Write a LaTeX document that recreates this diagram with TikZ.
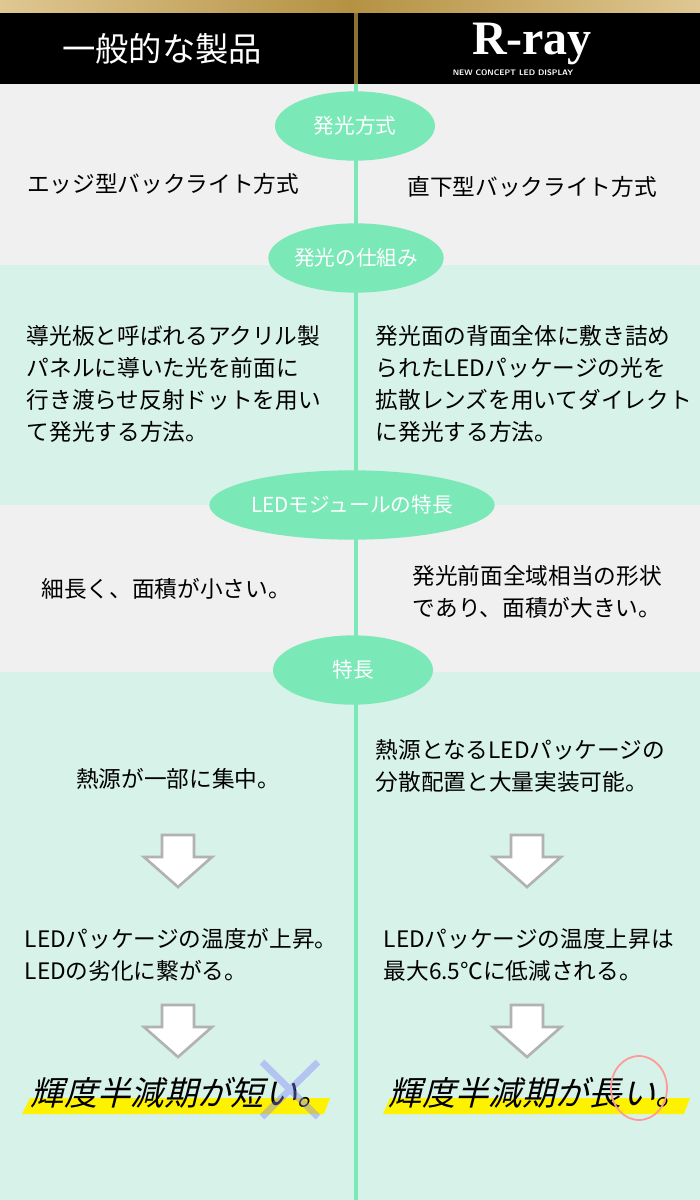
\documentclass[tikz,border=0pt]{standalone}
\usepackage{fontspec}
\setmainfont{Noto Sans CJK JP}
\newfontfamily\serifR{Liberation Serif}
\usetikzlibrary{shapes.geometric}
\definecolor{mint}{HTML}{7BE8B8}
\definecolor{mintbg}{HTML}{D7F2E9}
\definecolor{graybg}{HTML}{F0F0F0}
\definecolor{gold}{HTML}{C9A24A}
\tikzset{
  pill/.style={ellipse,fill=mint,text=white,font=\fontsize{15.5}{18}\selectfont,inner sep=0pt},
  body/.style={font=\fontsize{17}{24}\selectfont,align=left,text=black},
  darrow/.style={draw=gray!60,fill=white,line width=2pt},
  big/.style={font=\fontsize{25}{28}\selectfont,xslant=0.25},
}
\begin{document}
\begin{tikzpicture}[x=0.75pt,y=-0.75pt]
\useasboundingbox (0,0) rectangle (700,1200);
\shade[left color=gold!60!white,right color=gold!60!white,middle color=gold!90!black] (0,0) rectangle (700,13);
\fill[black] (0,13) rectangle (700,84);
\fill[graybg] (0,84) rectangle (700,265);
\fill[mintbg] (0,265) rectangle (700,505);
\fill[graybg] (0,505) rectangle (700,672);
\fill[mintbg] (0,672) rectangle (700,1200);
\fill[gold!70!black] (354,13) rectangle (358,84);
\fill[mint] (354,84) rectangle (358,1200);
\node[text=white,font=\fontsize{25}{27}\selectfont] (h1) at (162,49) {一般的な製品};
\node[text=white,font=\serifR\bfseries\fontsize{36}{38}\selectfont] (h2) at (532,44) {R-ray};
\node[text=white,font=\sffamily\bfseries\fontsize{6}{7}\selectfont] (h3) at (513,73) {NEW CONCEPT LED DISPLAY};
\node[pill,minimum width=120,minimum height=52] (p1) at (355,126) {発光方式};
\node[pill,minimum width=120,minimum height=52] (p2) at (356,258) {発光の仕組み};
\node[pill,minimum width=214,minimum height=52] (p3) at (352,505) {LEDモジュールの特長};
\node[pill,minimum width=120,minimum height=52] (p4) at (353,670) {特長};
\node[body] (a1) at (163,184) {エッジ型バックライト方式};
\node[body] (b1) at (532,187) {直下型バックライト方式};
\node[body,anchor=west] (a2) at (22,384) {導光板と呼ばれるアクリル製\\パネルに導いた光を前面に\\行き渡らせ反射ドットを用い\\て発光する方法。};
\node[body,anchor=west] (b2) at (371,384) {発光面の背面全体に敷き詰め\\られたLEDパッケージの光を\\拡散レンズを用いてダイレクト\\に発光する方法。};
\node[body] (a3) at (166,589) {細長く、面積が小さい。};
\node[body,align=center] (b3) at (537,592) {発光前面全域相当の形状\\であり、面積が大きい。};
\node[body] (a4) at (178,779) {熱源が一部に集中。};
\node[body,anchor=west] (b4) at (371,766) {熱源となるLEDパッケージの\\分散配置と大量実装可能。};
\node[body,anchor=west] (a5) at (20,955) {LEDパッケージの温度が上昇。\\LEDの劣化に繋がる。};
\node[body,anchor=west] (b5) at (379,955) {LEDパッケージの温度上昇は\\最大6.5℃に低減される。};
\foreach \cx/\cy in {178/835,527/835,178/1005,527/1005}{
  \draw[darrow] (\cx-16,\cy) -- (\cx+16,\cy) -- (\cx+16,\cy+22) -- (\cx+34,\cy+22) -- (\cx,\cy+52) -- (\cx-34,\cy+22) -- (\cx-16,\cy+22) -- cycle;
}
\fill[yellow] (30,1098) -- (330,1098) -- (324,1114) -- (22,1114) -- cycle;
\fill[yellow] (390,1098) -- (690,1098) -- (684,1114) -- (383,1114) -- cycle;
\node[big] (a6) at (184,1093) {輝度半減期が短い。};
\node[big] (b6) at (542,1093) {輝度半減期が長い。};
\draw[blue!50!white,opacity=0.4,line width=5pt] (262,1062) -- (318,1117) (318,1062) -- (262,1117);
\draw[red!40!white,line width=1.3pt] (639,1088) ellipse (28 and 32);
\end{tikzpicture}
\end{document}
